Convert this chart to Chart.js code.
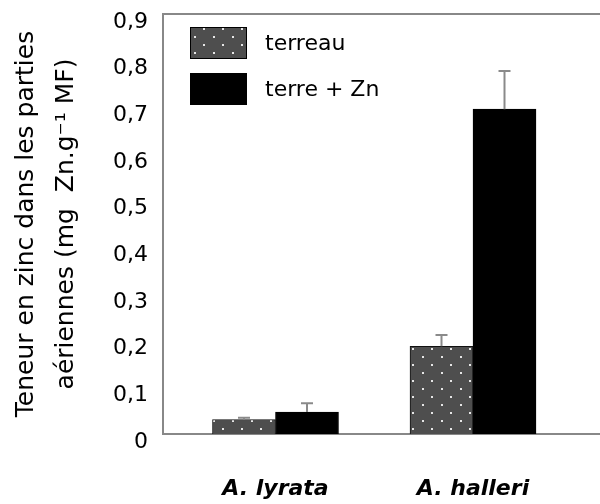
<!DOCTYPE html>
<html>
<head>
<meta charset="utf-8">
<script src="https://cdn.jsdelivr.net/npm/chart.js@4"></script>
<style>
  html, body { margin: 0; padding: 0; background: #ffffff; }
  #wrap { width: 600px; height: 504px; }
</style>
</head>
<body>
<div id="wrap"><canvas id="c" width="600" height="504"></canvas></div>
<script>
// ---- data ----
const categories = ['A. lyrata', 'A. halleri'];
const seriesNames = ['terreau', 'terre + Zn'];
const terreauValues = [0.031, 0.188];
const terreauErrors = [0.004, 0.024];
const zincValues = [0.047, 0.696];
const zincErrors = [0.019, 0.082];
const yTickValues = [0, 0.1, 0.2, 0.3, 0.4, 0.5, 0.6, 0.7, 0.8, 0.9];
const yTickLabels = ['0', '0,1', '0,2', '0,3', '0,4', '0,5', '0,6', '0,7', '0,8', '0,9'];
const yTitleLines = ['Teneur en zinc dans les parties', 'aériennes (mg  Zn.g\u207B\u00B9 MF)'];

// ---- dotted pattern for "terreau" ----
function makePattern() {
  const p = document.createElement('canvas');
  p.width = 19; p.height = 16;
  const g = p.getContext('2d');
  g.fillStyle = '#4e4e4e';
  g.fillRect(0, 0, 19, 16);
  g.fillStyle = '#e6e6e6';
  g.fillRect(4, 4, 2, 2);
  g.fillRect(13, 12, 2, 2);
  return document.getElementById('c').getContext('2d').createPattern(p, 'repeat');
}
const dotPattern = makePattern();

const FONT = 'DejaVu Sans';

// ---- error bars plugin ----
const errorBars = {
  id: 'errorBars',
  afterDatasetsDraw(chart) {
    const ctx = chart.ctx;
    const yScale = chart.scales.y;
    chart.data.datasets.forEach((ds, di) => {
      const meta = chart.getDatasetMeta(di);
      meta.data.forEach((bar, i) => {
        const v = ds.data[i].y;
        const e = ds.errors[i];
        const yTop = yScale.getPixelForValue(v + e);
        ctx.save();
        ctx.strokeStyle = '#8a8a8a';
        ctx.lineWidth = 2;
        ctx.beginPath();
        ctx.moveTo(bar.x, bar.y);
        ctx.lineTo(bar.x, yTop);
        ctx.moveTo(bar.x - 6, yTop);
        ctx.lineTo(bar.x + 6, yTop);
        ctx.stroke();
        ctx.restore();
      });
    });
  }
};

// ---- legend inside the plot ----
const innerLegend = {
  id: 'innerLegend',
  afterDraw(chart, args, opts) {
    const ctx = chart.ctx;
    const area = chart.chartArea;
    ctx.save();
    chart.data.datasets.forEach((ds, i) => {
      const bx = area.left + opts.boxLeft;
      const by = area.top + opts.firstTop + i * opts.rowStep;
      ctx.fillStyle = ds.backgroundColor;
      ctx.fillRect(bx, by, opts.boxWidth, opts.boxHeight);
      ctx.strokeStyle = '#000';
      ctx.lineWidth = 1;
      ctx.strokeRect(bx + 0.5, by + 0.5, opts.boxWidth - 1, opts.boxHeight - 1);
      ctx.fillStyle = '#000';
      ctx.font = '22px "' + FONT + '"';
      ctx.textBaseline = 'middle';
      ctx.textAlign = 'left';
      ctx.fillText(ds.label, bx + opts.boxWidth + opts.textGap, by + opts.boxHeight / 2 + 1);
    });
    ctx.restore();
  }
};

new Chart(document.getElementById('c'), {
  type: 'bar',
  data: {
    datasets: [
      {
        label: seriesNames[0],
        data: terreauValues.map((v, i) => ({ x: i + 1, y: v })),
        errors: terreauErrors,
        backgroundColor: dotPattern,
        borderColor: '#111',
        borderWidth: 1,
        barThickness: 63
      },
      {
        label: seriesNames[1],
        data: zincValues.map((v, i) => ({ x: i + 1, y: v })),
        errors: zincErrors,
        backgroundColor: '#000000',
        borderColor: '#000000',
        borderWidth: 1,
        barThickness: 63
      }
    ]
  },
  options: {
    responsive: false,
    animation: false,
    devicePixelRatio: 1,
    layout: { padding: { top: 14, left: 0, right: 0, bottom: 0 } },
    plugins: {
      legend: { display: false },
      tooltip: { enabled: false },
      innerLegend: { boxLeft: 27, firstTop: 13, rowStep: 46, boxWidth: 57, boxHeight: 32, textGap: 18 }
    },
    scales: {
      x: {
        type: 'linear',
        position: 'bottom',
        offset: false,
        min: 0.4304,
        max: 2.643,
        grid: { display: false, drawTicks: false, offset: false },
        border: { display: true, color: '#888', width: 2 },
        afterBuildTicks(scale) { scale.ticks = categories.map((c, i) => ({ value: i + 1 })); },
        afterFit(scale) { scale.height = 70; scale.paddingLeft = 0; scale.paddingRight = 0; },
        ticks: {
          padding: 42,
          color: '#000',
          font: { family: FONT, size: 22, style: 'italic', weight: 'bold' },
          callback: (v) => categories[Math.round(v) - 1],
          maxRotation: 0,
          autoSkip: false
        }
      },
      xTop: {
        type: 'linear',
        position: 'top',
        offset: false,
        grid: { display: false, drawTicks: false },
        ticks: { display: false },
        border: { display: true, color: '#888', width: 2 }
      },
      y: {
        type: 'linear',
        position: 'left',
        min: 0,
        max: 0.9,
        grid: { display: false, drawTicks: false },
        border: { display: true, color: '#888', width: 2 },
        afterBuildTicks(scale) { scale.ticks = yTickValues.map(v => ({ value: v })); },
        afterFit(scale) { scale.width = 163; scale.paddingTop = 0; scale.paddingBottom = 0; },
        ticks: {
          padding: 15,
          labelOffset: 8,
          color: '#000',
          font: { family: FONT, size: 22 },
          callback: (v, i) => yTickLabels[i]
        },
        title: {
          display: true,
          text: yTitleLines,
          color: '#000',
          font: { family: FONT, size: 25, lineHeight: 1.6 },
          padding: { top: 6, bottom: 0 }
        }
      }
    }
  },
  plugins: [errorBars, innerLegend]
});
</script>
</body>
</html>
